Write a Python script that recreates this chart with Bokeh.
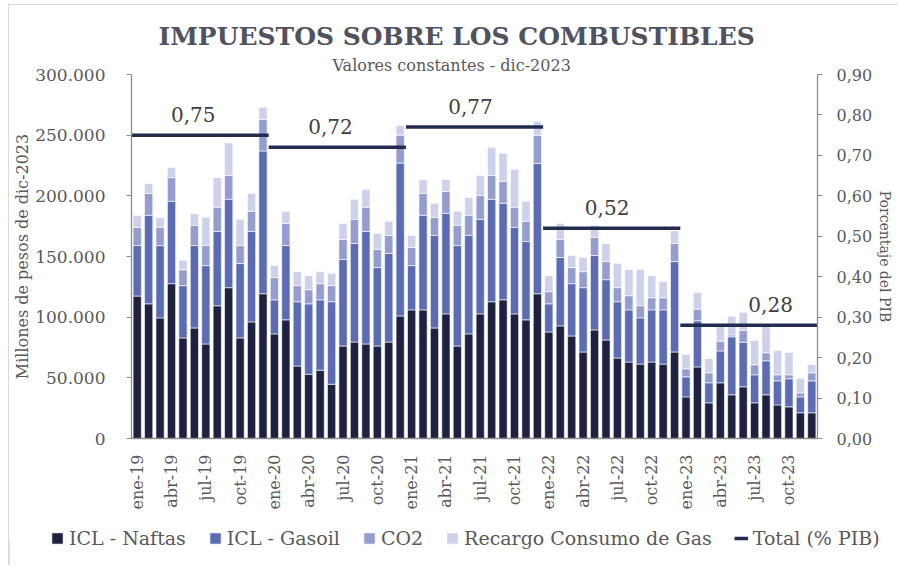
import math
from bokeh.plotting import figure
from bokeh.layouts import column
from bokeh.models import (Range1d, LinearAxis, FixedTicker, Label, Legend,
                          LegendItem, ColumnDataSource, Title)
from bokeh.embed import file_html
from bokeh.resources import INLINE

# ---------------- data (millones de pesos de dic-2023) ----------------
meses_abrev = ["ene", "feb", "mar", "abr", "may", "jun",
               "jul", "ago", "sep", "oct", "nov", "dic"]
anios = ["19", "20", "21", "22", "23"]
meses = [f"{m}-{a}" for a in anios for m in meses_abrev]

naftas = [117400, 111000, 99400, 127600, 82900, 91100, 77900, 109400, 124300, 82900, 96100, 119300,
          86200, 97800, 59700, 53000, 56300, 44700, 76200, 79500, 77900, 76200, 79500, 101000,
          106000, 106000, 91100, 102700, 76200, 86200, 102700, 112700, 114300, 102700, 97800, 119300,
          87800, 92800, 84500, 71300, 89500, 81200, 66300, 63000, 61300, 63000, 61300, 71300,
          34300, 59000, 29400, 45900, 36000, 42600, 29400, 36000, 27700, 26100, 21200, 21200]

gasoil = [41600, 73000, 59600, 68000, 43100, 67900, 64600, 61300, 72900, 61300, 74600, 117700,
          28100, 61200, 53000, 58000, 58000, 68000, 71300, 81200, 92800, 64700, 73000, 126000,
          36500, 78000, 76300, 82900, 82800, 81200, 77900, 84500, 79600, 71300, 64600, 107500,
          23200, 56400, 43100, 53000, 61300, 49700, 46400, 43000, 38100, 43000, 44700, 74500,
          16500, 38000, 16500, 26300, 47800, 36700, 23100, 28000, 19800, 23100, 13100, 26300]

co2 = [15000, 18000, 15000, 19400, 13000, 16700, 16500, 19900, 19600, 14800, 16600, 26000,
       18300, 18300, 13300, 11600, 13300, 13300, 16500, 19900, 19900, 14900, 14900, 23000,
       14900, 17900, 14900, 18000, 16700, 16600, 19600, 19600, 17900, 16600, 16600, 23200,
       10000, 14800, 13300, 13200, 14900, 14900, 11600, 11700, 10000, 10000, 10000, 14900,
       6600, 9600, 8200, 8000, 1600, 9700, 8200, 6600, 5000, 3300, 3300, 6600]

recargo = [9700, 8000, 8000, 8400, 8000, 9600, 23300, 24400, 26800, 21600, 14600, 10000,
           9900, 10000, 11500, 11600, 9900, 9900, 13300, 16600, 14900, 13200, 11600, 8000,
           10000, 11600, 11600, 9900, 11600, 14600, 16600, 23200, 23200, 31200, 16600, 11300,
           13200, 13300, 9900, 11700, 10000, 14900, 19900, 21500, 29800, 18200, 13300, 10500,
           11800, 13700, 11800, 12400, 15400, 15000, 20100, 22000, 20000, 18400, 11800, 6900]

total_pib = [0.75, 0.72, 0.77, 0.52, 0.28]
total_pib_labels = ["0,75", "0,72", "0,77", "0,52", "0,28"]

y_ticks = [0, 50000, 100000, 150000, 200000, 250000, 300000]
y_tick_labels = ["0", "50.000", "100.000", "150.000", "200.000", "250.000", "300.000"]
pct_ticks = [0.0, 0.1, 0.2, 0.3, 0.4, 0.5, 0.6, 0.7, 0.8, 0.9]
pct_tick_labels = ["0,00", "0,10", "0,20", "0,30", "0,40", "0,50", "0,60", "0,70", "0,80", "0,90"]

series_names = ["ICL - Naftas", "ICL - Gasoil", "CO2", "Recargo Consumo de Gas"]
line_name = "Total (% PIB)"

# ---------------- style ----------------
FONT = "DejaVu Serif"
TXT = "#595959"
colors = ["#1E2240", "#5B6BB4", "#959DCF", "#CDD1E9"]
LINE_COL = "#232B4F"
AX_COL = "#8C8C8C"

OX, OY = 9, 5                      # canvas origin on the page
W, H = 889, 510
HL = 50                            # legend strip height
FL, FR, FT, FB = 131 - OX, 817 - OX, 74 - OY, 438 - OY   # frame in canvas px
N = len(meses)
YMAX = 300000
PCTMAX = 0.9

p = figure(width=W, height=H, output_backend="svg", toolbar_location=None,
           x_range=Range1d(-0.5, N - 0.5), y_range=Range1d(0, YMAX),
           min_border_left=FL, min_border_right=W - FR,
           min_border_top=FT, min_border_bottom=H - FB)
p.frame_align = False
p.outline_line_color = None
p.xgrid.grid_line_color = None
p.ygrid.grid_line_color = None
p.background_fill_color = "white"
p.border_fill_color = "white"

src = ColumnDataSource(dict(x=list(range(N)), naftas=naftas, gasoil=gasoil,
                            co2=co2, recargo=recargo))
bars = p.vbar_stack(["naftas", "gasoil", "co2", "recargo"], x="x", width=0.72,
                    source=src, fill_color=colors, line_color="white",
                    line_width=0.6)

# % PIB lines on secondary axis
p.extra_y_ranges = {"pct": Range1d(0, PCTMAX)}
x0 = [12 * i - 0.5 for i in range(len(total_pib))]
x1 = [12 * i + 11.5 for i in range(len(total_pib))]
seg = p.segment(x0=x0, y0=total_pib, x1=x1, y1=total_pib, y_range_name="pct",
                line_color=LINE_COL, line_width=3.5)

label_shift = [4.9, 4.9, 5.15, 5.1, 7.4]
lift = 21 * PCTMAX / (FB - FT)      # px above the line
for i, (v, t) in enumerate(zip(total_pib, total_pib_labels)):
    p.add_layout(Label(x=12 * i + label_shift[i], y=v + lift, y_range_name="pct", text=t,
                       text_align="center", text_baseline="alphabetic",
                       text_font=FONT, text_font_size="20px",
                       text_color="#404040"))

# axes
p.yaxis.ticker = FixedTicker(ticks=y_ticks)
p.yaxis.major_label_overrides = dict(zip(y_ticks, y_tick_labels))
p.yaxis.minor_tick_line_color = None
p.yaxis.major_tick_in = 0
p.yaxis.major_tick_out = 5
p.yaxis.major_label_standoff = 21
p.yaxis.axis_line_color = AX_COL
p.yaxis.major_tick_line_color = AX_COL
p.yaxis.axis_line_width = 1.3
p.yaxis.major_label_text_font = FONT
p.yaxis.major_label_text_font_size = "17px"
p.yaxis.major_label_text_color = TXT
p.yaxis.axis_label = "Millones de pesos de dic-2023"
p.yaxis.axis_label_text_font = FONT
p.yaxis.axis_label_text_font_size = "16px"
p.yaxis.axis_label_text_font_style = "normal"
p.yaxis.axis_label_text_color = TXT
p.yaxis.axis_label_standoff = 0

pax = LinearAxis(y_range_name="pct", ticker=FixedTicker(ticks=pct_ticks))
pax.major_label_overrides = dict(zip(pct_ticks, pct_tick_labels))
pax.minor_tick_line_color = None
pax.major_tick_in = 0
pax.major_tick_out = 5
pax.major_label_standoff = 14
pax.axis_line_color = AX_COL
pax.axis_line_width = 1.3
pax.major_tick_line_color = AX_COL
pax.major_label_text_font = FONT
pax.major_label_text_font_size = "16px"
pax.major_label_text_color = TXT
pax.axis_label = "Porcentaje del PIB"
pax.axis_label_text_font = FONT
pax.axis_label_text_font_size = "14px"
pax.axis_label_text_font_style = "normal"
pax.axis_label_text_color = TXT
pax.axis_label_standoff = 2
p.add_layout(pax, "right")

tick_pos = list(range(0, N, 3))
p.xaxis.ticker = FixedTicker(ticks=tick_pos)
p.xaxis.major_label_overrides = {i: meses[i] for i in tick_pos}
p.xaxis.major_label_orientation = math.pi / 2
p.xaxis.major_tick_line_color = None
p.xaxis.minor_tick_line_color = None
p.xaxis.major_label_standoff = 10
p.xaxis.axis_line_color = AX_COL
p.xaxis.axis_line_width = 1.3
p.xaxis.major_label_text_font = FONT
p.xaxis.major_label_text_font_size = "16px"
p.xaxis.major_label_text_color = TXT

# titles (closest to the frame first)
p.add_layout(Title(text="Valores constantes  - dic-2023", align="left", offset=201,
                   standoff=0, text_font=FONT, text_font_size="16px",
                   text_font_style="normal", text_color=TXT), "above")
p.add_layout(Title(text="IMPUESTOS SOBRE LOS COMBUSTIBLES", align="left", offset=27,
                   standoff=6, text_font=FONT, text_font_size="25px",
                   text_font_style="bold", text_color="#50525E"), "above")

# legend strip (own canvas below the chart); the key glyphs use the series colours
leg = figure(width=W, height=HL, output_backend="svg", toolbar_location=None,
             x_range=Range1d(0, 1), y_range=Range1d(0, 1),
             x_axis_type=None, y_axis_type=None,
             min_border_left=0, min_border_right=0, min_border_top=0, min_border_bottom=0)
leg.frame_align = False
leg.outline_line_color = None
leg.xgrid.grid_line_color = None
leg.ygrid.grid_line_color = None
leg.background_fill_color = "white"
leg.border_fill_color = "white"
proxies = [leg.vbar(x=[-5], top=[0.5], width=0.5, fill_color=c, line_color="white",
                    line_width=0.6) for c in colors]
proxy_line = leg.segment(x0=[-5], y0=[0.5], x1=[-4], y1=[0.5], line_color=LINE_COL,
                         line_width=3.5)
items = [LegendItem(label=n, renderers=[r]) for n, r in zip(series_names, proxies)]
items.append(LegendItem(label=line_name, renderers=[proxy_line]))
legend = Legend(items=items, orientation="horizontal", location=(41, 16),
                border_line_color=None, background_fill_alpha=0,
                glyph_width=14, glyph_height=14, label_standoff=5, spacing=22,
                padding=0, margin=0, label_text_font=FONT,
                label_text_font_size="19px", label_text_color=TXT)
leg.add_layout(legend, "center")

layout = column(p, leg, spacing=0)
layout.styles = {"margin-left": "8px", "margin-top": "4px",
                 "border-left": "1px solid #D9D9D9", "border-top": "1px solid #D9D9D9"}
open("out.html", "w").write(file_html(layout, INLINE))
